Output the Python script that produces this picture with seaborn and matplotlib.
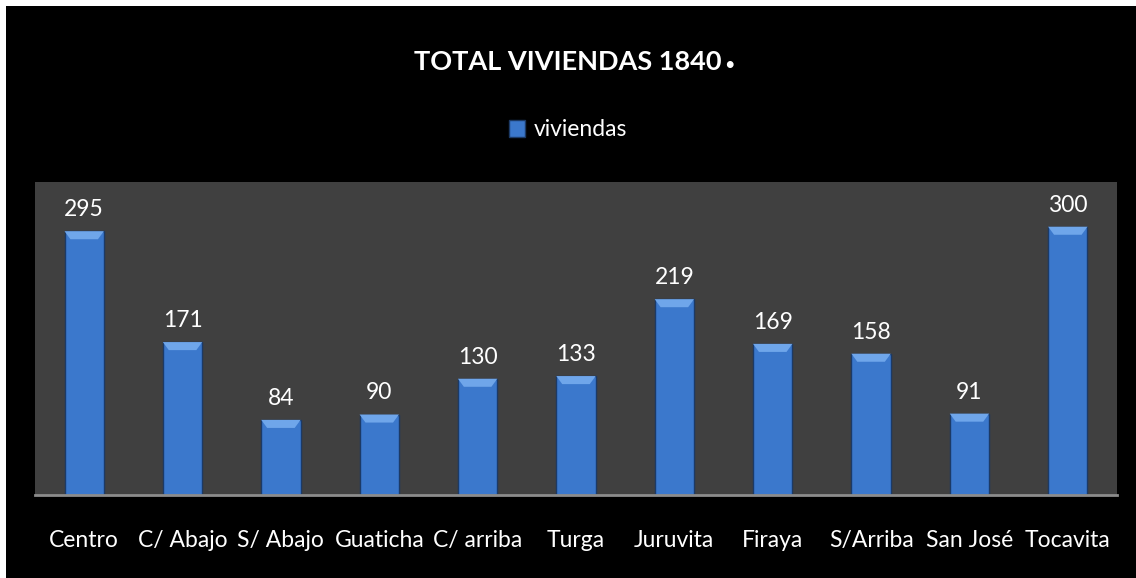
import matplotlib
matplotlib.use("Agg")
import matplotlib.pyplot as plt
from matplotlib.patches import Rectangle, Polygon
import seaborn as sns
import pandas as pd

sectores = ["Centro", "C/ Abajo", "S/ Abajo", "Guaticha", "C/ arriba", "Turga",
            "Juruvita", "Firaya", "S/Arriba", "San José", "Tocavita"]
viviendas = [295, 171, 84, 90, 130, 133, 219, 169, 158, 91, 300]
titulo = "TOTAL VIVIENDAS 1840"
serie = "viviendas"

df = pd.DataFrame({"sector": sectores, "viviendas": viviendas})

sns.set_style("dark")
plt.rcParams["font.family"] = ["Lato", "DejaVu Sans"]

fig = plt.figure(figsize=(11.36, 5.78), dpi=100, facecolor="white")
# black chart area with a thin white strip on top and left
fig.patches.append(Rectangle((6 / 1136, 0), 1, 1 - 6 / 578, transform=fig.transFigure,
                             facecolor="black", edgecolor="none", zorder=-10))

ax = fig.add_axes([35 / 1136, 83 / 578, 1082 / 1136, 313 / 578])
ax.set_facecolor("#404040")

sns.barplot(data=df, x="sector", y="viviendas", color="#3b78cc", width=0.4,
            edgecolor="#1c3a66", linewidth=1, saturation=1, label=serie, ax=ax)

ax.set_ylim(0, 350)
ax.set_xlim(-0.5, len(sectores) - 0.5)

# bevel on the top of each bar, built from the bar patches
bev_h = 9      # in data units
bev_w = 0.06
for p in list(ax.patches):
    x0, w, h = p.get_x(), p.get_width(), p.get_height()
    top = Polygon([(x0, h), (x0 + w, h), (x0 + w - bev_w, h - bev_h), (x0 + bev_w, h - bev_h)],
                  closed=True, facecolor="#6fa6ea", edgecolor="none", zorder=3)
    ax.add_patch(top)

for i, v in enumerate(viviendas):
    ax.annotate(str(v), (i, v), xytext=(0, 8), textcoords="offset points",
                ha="center", va="bottom", color="white", fontsize=16.5)

ax.set_xlabel("")
ax.set_ylabel("")
ax.set_yticks([])
ax.tick_params(axis="x", colors="white", labelsize=16.5, length=0, pad=25)
ax.grid(False)
for s in ["top", "right", "left"]:
    ax.spines[s].set_visible(False)
ax.spines["bottom"].set_color("#8c8c8c")
ax.spines["bottom"].set_linewidth(2)

t = fig.text(0.5, 1 - 62 / 578, titulo, ha="center", va="center", color="white",
             fontsize=19.5, fontweight="bold")
ax.annotate(".", xy=(1, 0), xycoords=t, xytext=(2, -1), textcoords="offset points",
            ha="left", va="bottom", color="white", fontsize=32, fontweight="bold")

ax.legend(loc="center", bbox_to_anchor=(0.5, 1 - 130 / 578), bbox_transform=fig.transFigure,
          frameon=False, fontsize=16.5, labelcolor="white", handlelength=0.7,
          handleheight=0.7, handletextpad=0.4)

fig.savefig("out.png", dpi=100, facecolor=fig.get_facecolor())
